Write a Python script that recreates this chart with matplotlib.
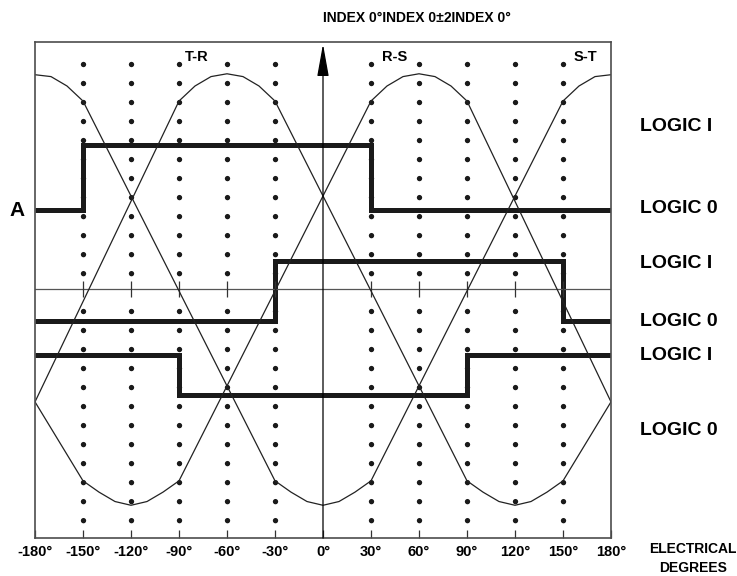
import matplotlib
matplotlib.use('Agg')
import matplotlib.pyplot as plt

plt.rcParams['font.family'] = ['Liberation Sans', 'DejaVu Sans']
plt.rcParams['font.weight'] = 'bold'
plt.rcParams['lines.scale_dashes'] = False

# electrical angle axis
tick_deg = [-180, -150, -120, -90, -60, -30, 0, 30, 60, 90, 120, 150, 180]
tick_labels = ['-180°', '-150°', '-120°', '-90°', '-60°', '-30°', '0°',
               '30°', '60°', '90°', '120°', '150°', '180°']
grid_deg = [-150, -120, -90, -60, -30, 30, 60, 90, 120, 150]

# back-EMF waveforms (normalised, 1.0 = start of the flat-top)
tr_deg = [-180, -90, -80, -70, -60, -50, -40, -30, 90, 100, 110, 120, 130, 140, 150, 180]
tr_val = [-0.60, 1.00, 1.08, 1.13, 1.145, 1.13, 1.08, 1.00,
          -1.02, -1.08, -1.13, -1.15, -1.13, -1.08, -1.02, -0.60]

rs_deg = [-180, -150, -140, -130, -120, -110, -100, -90, 30, 40, 50, 60, 70, 80, 90, 180]
rs_val = [-0.60, -1.02, -1.08, -1.13, -1.15, -1.13, -1.08, -1.02,
          1.00, 1.08, 1.13, 1.145, 1.13, 1.08, 1.00, -0.60]

st_deg = [-180, -170, -160, -150, -30, -20, -10, 0, 10, 20, 30, 150, 160, 170, 180]
st_val = [1.14, 1.13, 1.08, 1.00, -1.02, -1.08, -1.13, -1.15,
          -1.13, -1.08, -1.02, 1.00, 1.08, 1.13, 1.14]

phase_names = ['T-R', 'R-S', 'S-T']
phase_name_deg = [-79, 45, 164]

# hall sensor logic outputs
hall_a_edges = [-180, -150, 30, 180]
hall_a_levels = [0.42, 0.766, 0.42]
hall_b_edges = [-180, -30, 150, 180]
hall_b_levels = [-0.17, 0.149, -0.17]
hall_c_edges = [-180, -90, 90, 180]
hall_c_levels = [-0.351, -0.564, -0.351]

logic_labels = ['LOGIC I', 'LOGIC 0', 'LOGIC I', 'LOGIC 0', 'LOGIC I', 'LOGIC 0']
logic_label_y = [0.862, 0.431, 0.138, -0.170, -0.356, -0.75]

fig = plt.figure(figsize=(7.37, 5.76), dpi=100)
ax = fig.add_axes([35 / 737, 1 - 538 / 576, 576 / 737, 496 / 576])
ax.set_xlim(-180, 180)
ax.set_ylim(-1.324, 1.314)

# dotted guide columns, gap at the centre line
for d in grid_deg:
    ax.plot([d, d], [1.197, 0.07], ls=(0, (0.01, 13.68)), lw=3.9,
            color='#1a1a1a', dash_capstyle='round')
    ax.plot([d, d], [-0.117, -1.245], ls=(0, (0.01, 13.68)), lw=3.9,
            color='#1a1a1a', dash_capstyle='round')

ax.axhline(0, color='#555555', lw=0.9)
ax.plot(grid_deg, [0] * len(grid_deg), ls='none', marker='|', ms=11.5,
        mew=0.9, color='#333333')

for xs, ys in [(tr_deg, tr_val), (rs_deg, rs_val), (st_deg, st_val)]:
    ax.plot(xs, ys, color='#222222', lw=0.9)

for edges, levels in [(hall_a_edges, hall_a_levels),
                      (hall_b_edges, hall_b_levels),
                      (hall_c_edges, hall_c_levels)]:
    ax.stairs(levels, edges, baseline=None, color='#1a1a1a', lw=3.6)

# vertical index axis with arrow
ax.annotate('', xy=(0, 1.303), xytext=(0, -1.324), annotation_clip=False,
            arrowprops=dict(arrowstyle='-|>,head_length=2.0,head_width=0.36',
                            mutation_scale=10, lw=0.9, color='black',
                            shrinkA=0, shrinkB=0))

for name, d in zip(phase_names, phase_name_deg):
    ax.text(d, 1.234, name, ha='center', va='center', fontsize=10.5)

for lab, y in zip(logic_labels, logic_label_y):
    ax.text(198, y, lab, ha='left', va='center', fontsize=14, clip_on=False)

ax.text(-191, 0.42, 'A', ha='center', va='center', fontsize=15, clip_on=False)
ax.text(0, 1.441, 'INDEX 0°INDEX 0±2INDEX 0°', ha='left', va='center',
        fontsize=10, clip_on=False)
ax.text(231, -1.383, 'ELECTRICAL', ha='center', va='center', fontsize=10, clip_on=False)
ax.text(231, -1.484, 'DEGREES', ha='center', va='center', fontsize=10, clip_on=False)

ax.set_xticks(tick_deg, tick_labels)
ax.set_yticks([])
ax.tick_params(axis='x', direction='in', length=6, width=0.9, color='#333333',
               labelsize=10.5, pad=5)
for sp in ax.spines.values():
    sp.set_color('#4d4d4d')
    sp.set_linewidth(1.2)

fig.savefig('out.png', dpi=100)
